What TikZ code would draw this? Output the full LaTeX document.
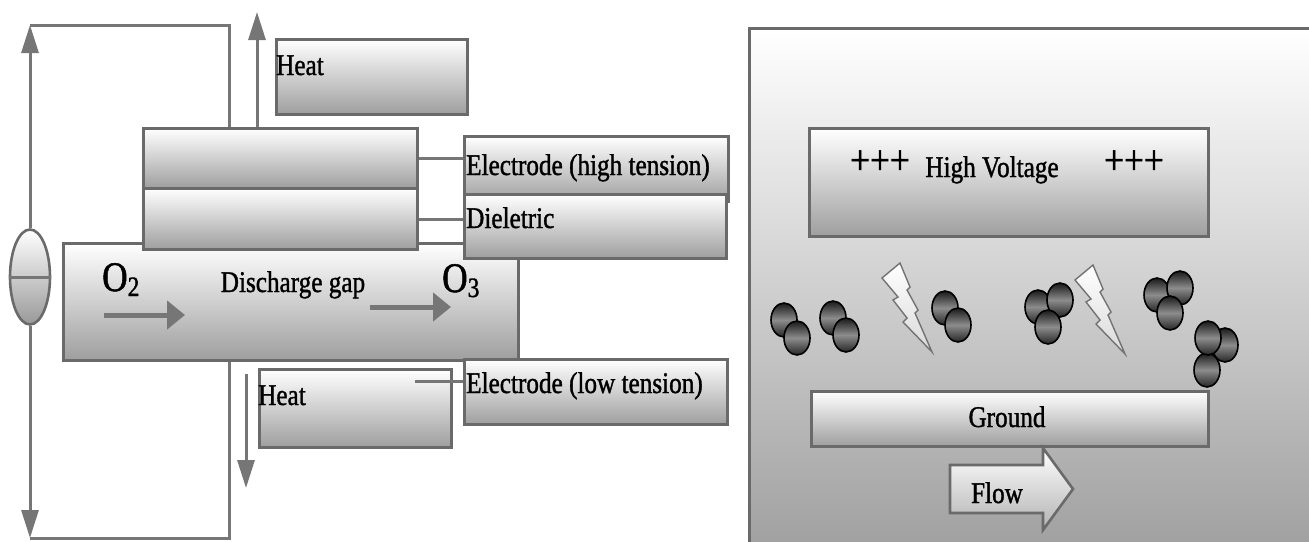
\documentclass[tikz,border=0pt]{standalone}
\usepackage{fontspec}
\setmainfont{Liberation Serif}[FakeStretch=0.84,FakeBold=1.2]
\usepackage{tikz}
\usetikzlibrary{arrows.meta,shapes.geometric}

\definecolor{rim}{HTML}{6A6A6A}
\definecolor{wiregray}{HTML}{767676}
\newcommand{\lblsize}{\fontsize{30}{34}\selectfont}
\newcommand{\gassize}{\fontsize{42}{46}\selectfont}
\newcommand{\subsize}{\fontsize{28}{30}\selectfont}

\begin{document}
\begin{tikzpicture}[x=1pt,y=-1pt,
    slab/.style={draw=rim, line width=3pt, top color=white, bottom color=black!38,
      inner sep=0pt, anchor=north west},
    lead/.style={draw=wiregray, line width=3pt},
    heat/.style={lead, -{Triangle[length=28pt,width=17pt]}},
    gas/.style={draw=wiregray, line width=5pt, -{Triangle[length=18pt,width=28pt]}},
    tag/.style={font=\lblsize, inner sep=0pt, anchor=base west},
    atom/.style={draw=black, line width=1.6pt, top color=black!90, bottom color=black!85,
      middle color=black!45},
    bolt/.style={draw=black!55, line width=1.4pt, top color=white, bottom color=black!15},
  ]
  \useasboundingbox (0,0) rectangle (1309,541);

  % Ozone generator
  \node[slab, minimum width=455pt, minimum height=117pt] (gap) at (62,242) {};
  \node[slab, minimum width=274pt, minimum height=60pt] (hiel) at (142,127) {};
  \node[slab, minimum width=274pt, minimum height=61pt] (diel) at (142,187) {};
  \node[slab, minimum width=191pt, minimum height=75pt] (heatup) at (275,38) {};
  \node[slab, minimum width=192pt, minimum height=78pt] (heatlo) at (258,368) {};

  \node[slab, minimum width=264pt, minimum height=65pt] (hitag) at (463,135) {};
  \node[slab, minimum width=262pt, minimum height=64pt] (dietag) at (463,193) {};
  \node[slab, minimum width=263pt, minimum height=65pt] (lotag) at (463,358) {};

  \node[tag] (heatuptxt) at (276,75) {Heat};
  \node[tag] (heatlotxt) at (258,405) {Heat};
  \node[tag] (hitxt) at (466,175) {Electrode (high tension)};
  \node[tag] (dietxt) at (466,228) {Dieletric};
  \node[tag] (lotxt) at (466,393) {Electrode (low tension)};
  \node[font=\lblsize, inner sep=0pt, anchor=base] (gaptxt) at (293,292) {Discharge gap};
  \node[font=\gassize, inner sep=0pt, anchor=base west] (otwo) at (102,291)
    {O\raisebox{-5pt}{\subsize 2}};
  \node[font=\gassize, inner sep=0pt, anchor=base west] (othree) at (442,292)
    {O\raisebox{-5pt}{\subsize 3}};

  % leader lines to the labels
  \draw[lead] (hiel.east) -- (hiel.east -| hitag.west);
  \draw[lead] (diel.east) -- (diel.east -| dietag.west);
  \coordinate (lofoot) at (415,381);
  \draw[lead] (lofoot) -- (lofoot -| lotag.west);

  % gas flow
  \coordinate (o2a) at (104,315);
  \coordinate (o2b) at (185,315);
  \coordinate (o3a) at (370,307);
  \coordinate (o3b) at (451,307);
  \draw[gas] (o2a) -- (o2b);
  \draw[gas] (o3a) -- (o3b);

  % heat out
  \coordinate (hup) at (257,12);
  \coordinate (hdn) at (246,488);
  \draw[heat] (hup |- hiel.north) -- (hup);
  \draw[heat] ([yshift=-12pt]hdn |- gap.south) -- (hdn);

  % supply loop
  \node[ellipse, draw=rim, line width=2.6pt, top color=white, bottom color=black!40,
    minimum width=40pt, minimum height=95pt, inner sep=0pt] (src) at (30,277) {};
  \draw[lead] (src.west) -- (src.east);
  \coordinate (ltop) at (30,25);
  \coordinate (rtop) at (229,25);
  \coordinate (lbot) at (30,538);
  \coordinate (rbot) at (229,538);
  \draw[heat] (src.north) -- (ltop);
  \draw[lead] (ltop) -- (rtop) -- (rtop |- hiel.north);
  \draw[heat] (src.south) -- (lbot);
  \draw[lead] (lbot) -- (rbot) -- (rbot |- gap.south);

  % Discharge cell
  \node[slab, minimum width=575pt, minimum height=530pt] (cell) at (748,27) {};
  \node[slab, minimum width=399pt, minimum height=108pt] (hv) at (808,127) {};
  \node[slab, minimum width=397pt, minimum height=55pt] (gnd) at (810,390) {};

  \node[font=\gassize, inner sep=0pt, anchor=base] (plusl) at (880,174) {+++};
  \node[font=\lblsize, inner sep=0pt, anchor=base] (hvtxt) at (992,177) {High Voltage};
  \node[font=\gassize, inner sep=0pt, anchor=base] (plusr) at (1134,174) {+++};
  \node[font=\lblsize, inner sep=0pt, anchor=base] (gndtxt) at (1007,427) {Ground};

  % sparks
  \foreach \dx/\dy in {0/0, 193/2}
    \draw[bolt, shift={(\dx,\dy)}] (882,278) -- (900,263) -- (910,287) -- (907,290)
      -- (918,310) -- (915,313) -- (932,352) -- (903,322) -- (907,318) -- (893,300)
      -- (898,297) -- cycle;

  % molecules
  \foreach \x/\y in {784/320, 797/338, 833/318, 846/335, 945/308, 958/325,
      1038/307, 1060/300, 1048/327, 1157/295, 1180/288, 1170/313,
      1207/370, 1225/345, 1208/338}
    \draw[atom] (\x,\y) ellipse [x radius=13, y radius=17];

  % flow arrow
  \draw[draw=rim, line width=2.6pt, top color=white, bottom color=black!30]
    (950,465) -- (1043,465) -- (1043,448) -- (1073,489) -- (1043,530) -- (1043,513)
    -- (950,513) -- cycle;
  \node[font=\lblsize, inner sep=0pt, anchor=base] (flowtxt) at (997,503) {Flow};
\end{tikzpicture}
\end{document}
